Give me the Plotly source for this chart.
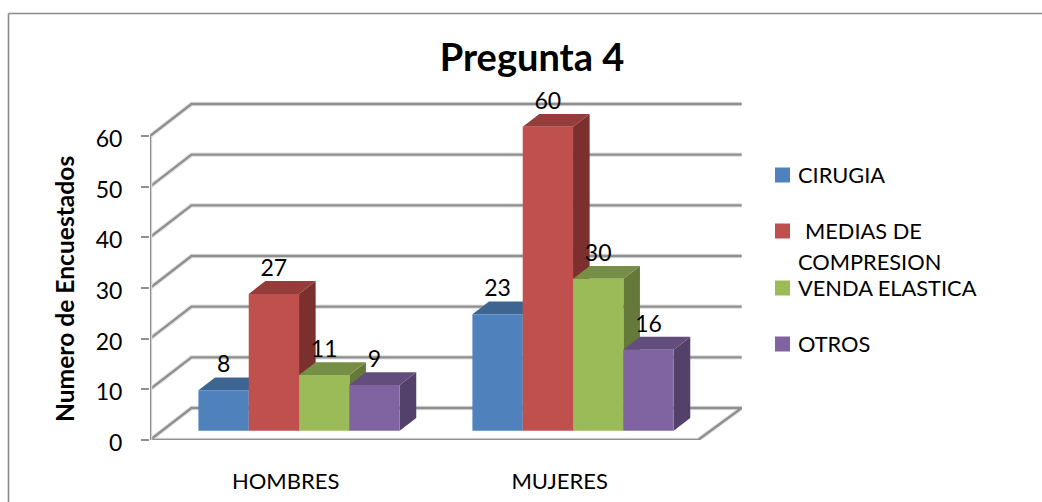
import plotly.graph_objects as go

# Survey counts per group
categories = ["HOMBRES", "MUJERES"]
series_names = ["CIRUGIA", "MEDIAS DE COMPRESION", "VENDA ELASTICA", "OTROS"]
cirugia = [8, 23]
medias = [27, 60]
venda = [11, 30]
otros = [9, 16]
y_ticks = [0, 10, 20, 30, 40, 50, 60]

# Face colours of each series: front, top, side
front_colors = ["#4F81BD", "#C0504D", "#9BBB59", "#8064A2"]
top_colors = ["#3D6592", "#943D3B", "#778F45", "#624D7D"]
side_colors = ["#355880", "#7C302E", "#657A3A", "#534169"]

GRID = "#8F8F8F"
HALO = "#E2E2E2"
FONT = "Lato"
TEXT = "#000000"

W, H = 1042, 502
# The plot area is taller than the chart box so that the top data label stays in range
LEFT, RIGHT, TOP, BOTTOM = 150, 300, 70, 62
PX_X = 274.0          # pixels per category
PX_Y = 304.0 / 60.0   # pixels per survey respondent

# Oblique projection: a unit of depth shifts a point right and up
DEPTH_X = 41.5 / PX_X
DEPTH_Y = 32.0 / PX_Y
BACK_END = 2.008      # right end of the back wall, slightly past the front edge
BAR_W = 0.1836
Z_FRONT, Z_BACK = 0.29, 0.69
LABEL_LIFT = 4.7


def project(x, v, z=0.0):
    return x + z * DEPTH_X, v + z * DEPTH_Y


def polyline(points):
    xy = [project(*p) for p in points]
    return [p[0] for p in xy], [p[1] for p in xy]


def add_line(fig, points):
    xs, ys = polyline(points)
    for color, width in ((HALO, 4.5), (GRID, 2.4)):
        fig.add_trace(go.Scatter(x=xs, y=ys, mode="lines", cliponaxis=False,
                                 line=dict(color=color, width=width),
                                 hoverinfo="skip", showlegend=False))


def add_face(fig, points, color, name):
    xs, ys = polyline(points + points[:1])
    fig.add_trace(go.Scatter(x=xs, y=ys, mode="lines", fill="toself", fillcolor=color,
                             line=dict(width=0, color=color), cliponaxis=False,
                             name=name, hoverinfo="name", showlegend=False))


fig = go.Figure()

# Back wall gridlines with their side-wall runs
for tick in y_ticks[1:]:
    add_line(fig, [(0, tick, 0), (0, tick, 1), (BACK_END, tick, 1)])

# Floor outline and the front vertical axis
add_line(fig, [(0, 0, 0), (0, 0, 1), (BACK_END, 0, 1), (2, 0, 0), (0, 0, 0)])
add_line(fig, [(0, 0, 0), (0, 60, 0)])

# Boxes, left to right so that each front face hides the previous side face
all_values = [cirugia, medias, venda, otros]
label_x, label_y, label_text = [], [], []
for g in range(len(categories)):
    for s, values in enumerate(all_values):
        v = values[g]
        x0 = g + 0.5 + (s - 2) * BAR_W
        x1 = x0 + BAR_W
        name = series_names[s]
        add_face(fig, [(x1, 0, Z_FRONT), (x1, 0, Z_BACK), (x1, v, Z_BACK), (x1, v, Z_FRONT)],
                 side_colors[s], name)
        add_face(fig, [(x0, v, Z_FRONT), (x0, v, Z_BACK), (x1, v, Z_BACK), (x1, v, Z_FRONT)],
                 top_colors[s], name)
        add_face(fig, [(x0, 0, Z_FRONT), (x1, 0, Z_FRONT), (x1, v, Z_FRONT), (x0, v, Z_FRONT)],
                 front_colors[s], name)
        lx, ly = project((x0 + x1) / 2, v, Z_FRONT)
        label_x.append(lx)
        label_y.append(ly + LABEL_LIFT)
        label_text.append(str(v))

fig.add_trace(go.Scatter(x=label_x, y=label_y, text=label_text, mode="text",
                         textposition="middle center", cliponaxis=False,
                         textfont=dict(family=FONT, size=23, color=TEXT),
                         hoverinfo="skip", showlegend=False))


def px_x(p):
    return (p - LEFT) / (W - LEFT - RIGHT)


def px_y(p):
    return (H - BOTTOM - p) / (H - TOP - BOTTOM)


# Legend: swatches and their labels
legend_rows = [
    (175, front_colors[0], [("CIRUGIA", 796, 174)]),
    (231, front_colors[1], [("MEDIAS DE", 803, 230), ("COMPRESION", 796, 261)]),
    (288, front_colors[2], [("VENDA ELASTICA", 796, 287)]),
    (344, front_colors[3], [("OTROS", 796, 343)]),
]
shapes, annotations = [], []
for cy, color, labels in legend_rows:
    shapes.append(dict(type="rect", xref="paper", yref="paper", line=dict(width=0),
                       fillcolor=color, x0=px_x(775), x1=px_x(790),
                       y0=px_y(cy + 7.5), y1=px_y(cy - 7.5)))
    for text, lx, ly in labels:
        annotations.append(dict(text=text, xref="paper", yref="paper", x=px_x(lx), y=px_y(ly),
                                xanchor="left", yanchor="middle", showarrow=False,
                                font=dict(family=FONT, size=21.8, color=TEXT)))

# Outer frame: only the left and top edges fall inside the page
for x0, y0, x1, y1 in ((8.5, 13.5, 8.5, 502), (8.5, 13.5, 1042, 13.5)):
    shapes.append(dict(type="line", xref="paper", yref="paper", layer="below",
                       x0=px_x(x0), y0=px_y(y0), x1=px_x(x1), y1=px_y(y1),
                       line=dict(color="#8A8A8A", width=1.6)))

annotations.append(dict(text="<b>Numero de Encuestados</b>", xref="paper", yref="paper",
                        x=px_x(64), y=px_y(289), textangle=-90, showarrow=False,
                        xanchor="center", yanchor="middle",
                        font=dict(family=FONT, size=24.6, color=TEXT)))

fig.update_layout(
    width=W, height=H, autosize=False,
    margin=dict(l=LEFT, r=RIGHT, t=TOP, b=BOTTOM, pad=0, autoexpand=False),
    paper_bgcolor="white", plot_bgcolor="white", showlegend=False,
    title=dict(text="<b>Pregunta 4</b>", x=532 / W, y=1 - 58 / H, xanchor="center",
               yanchor="middle", xref="container", yref="container", automargin=False,
               font=dict(family=FONT, size=38, color=TEXT)),
    shapes=shapes, annotations=annotations,
    xaxis=dict(range=[0, (W - LEFT - RIGHT) / PX_X], tickvals=[0.495, 1.495], ticktext=categories,
               showgrid=False, zeroline=False, showline=False, ticks="", automargin=False,
               ticklabelstandoff=26, tickfont=dict(family=FONT, size=22, color=TEXT)),
    yaxis=dict(range=[0, (H - TOP - BOTTOM) / PX_Y], tickvals=y_ticks, automargin=False,
               showgrid=False, zeroline=False, showline=False,
               ticks="outside", ticklen=8, tickwidth=2.4, tickcolor=GRID,
               ticklabelstandoff=14, ticklabelshift=3,
               tickfont=dict(family=FONT, size=23, color=TEXT)),
)

fig.write_html("out.html")
